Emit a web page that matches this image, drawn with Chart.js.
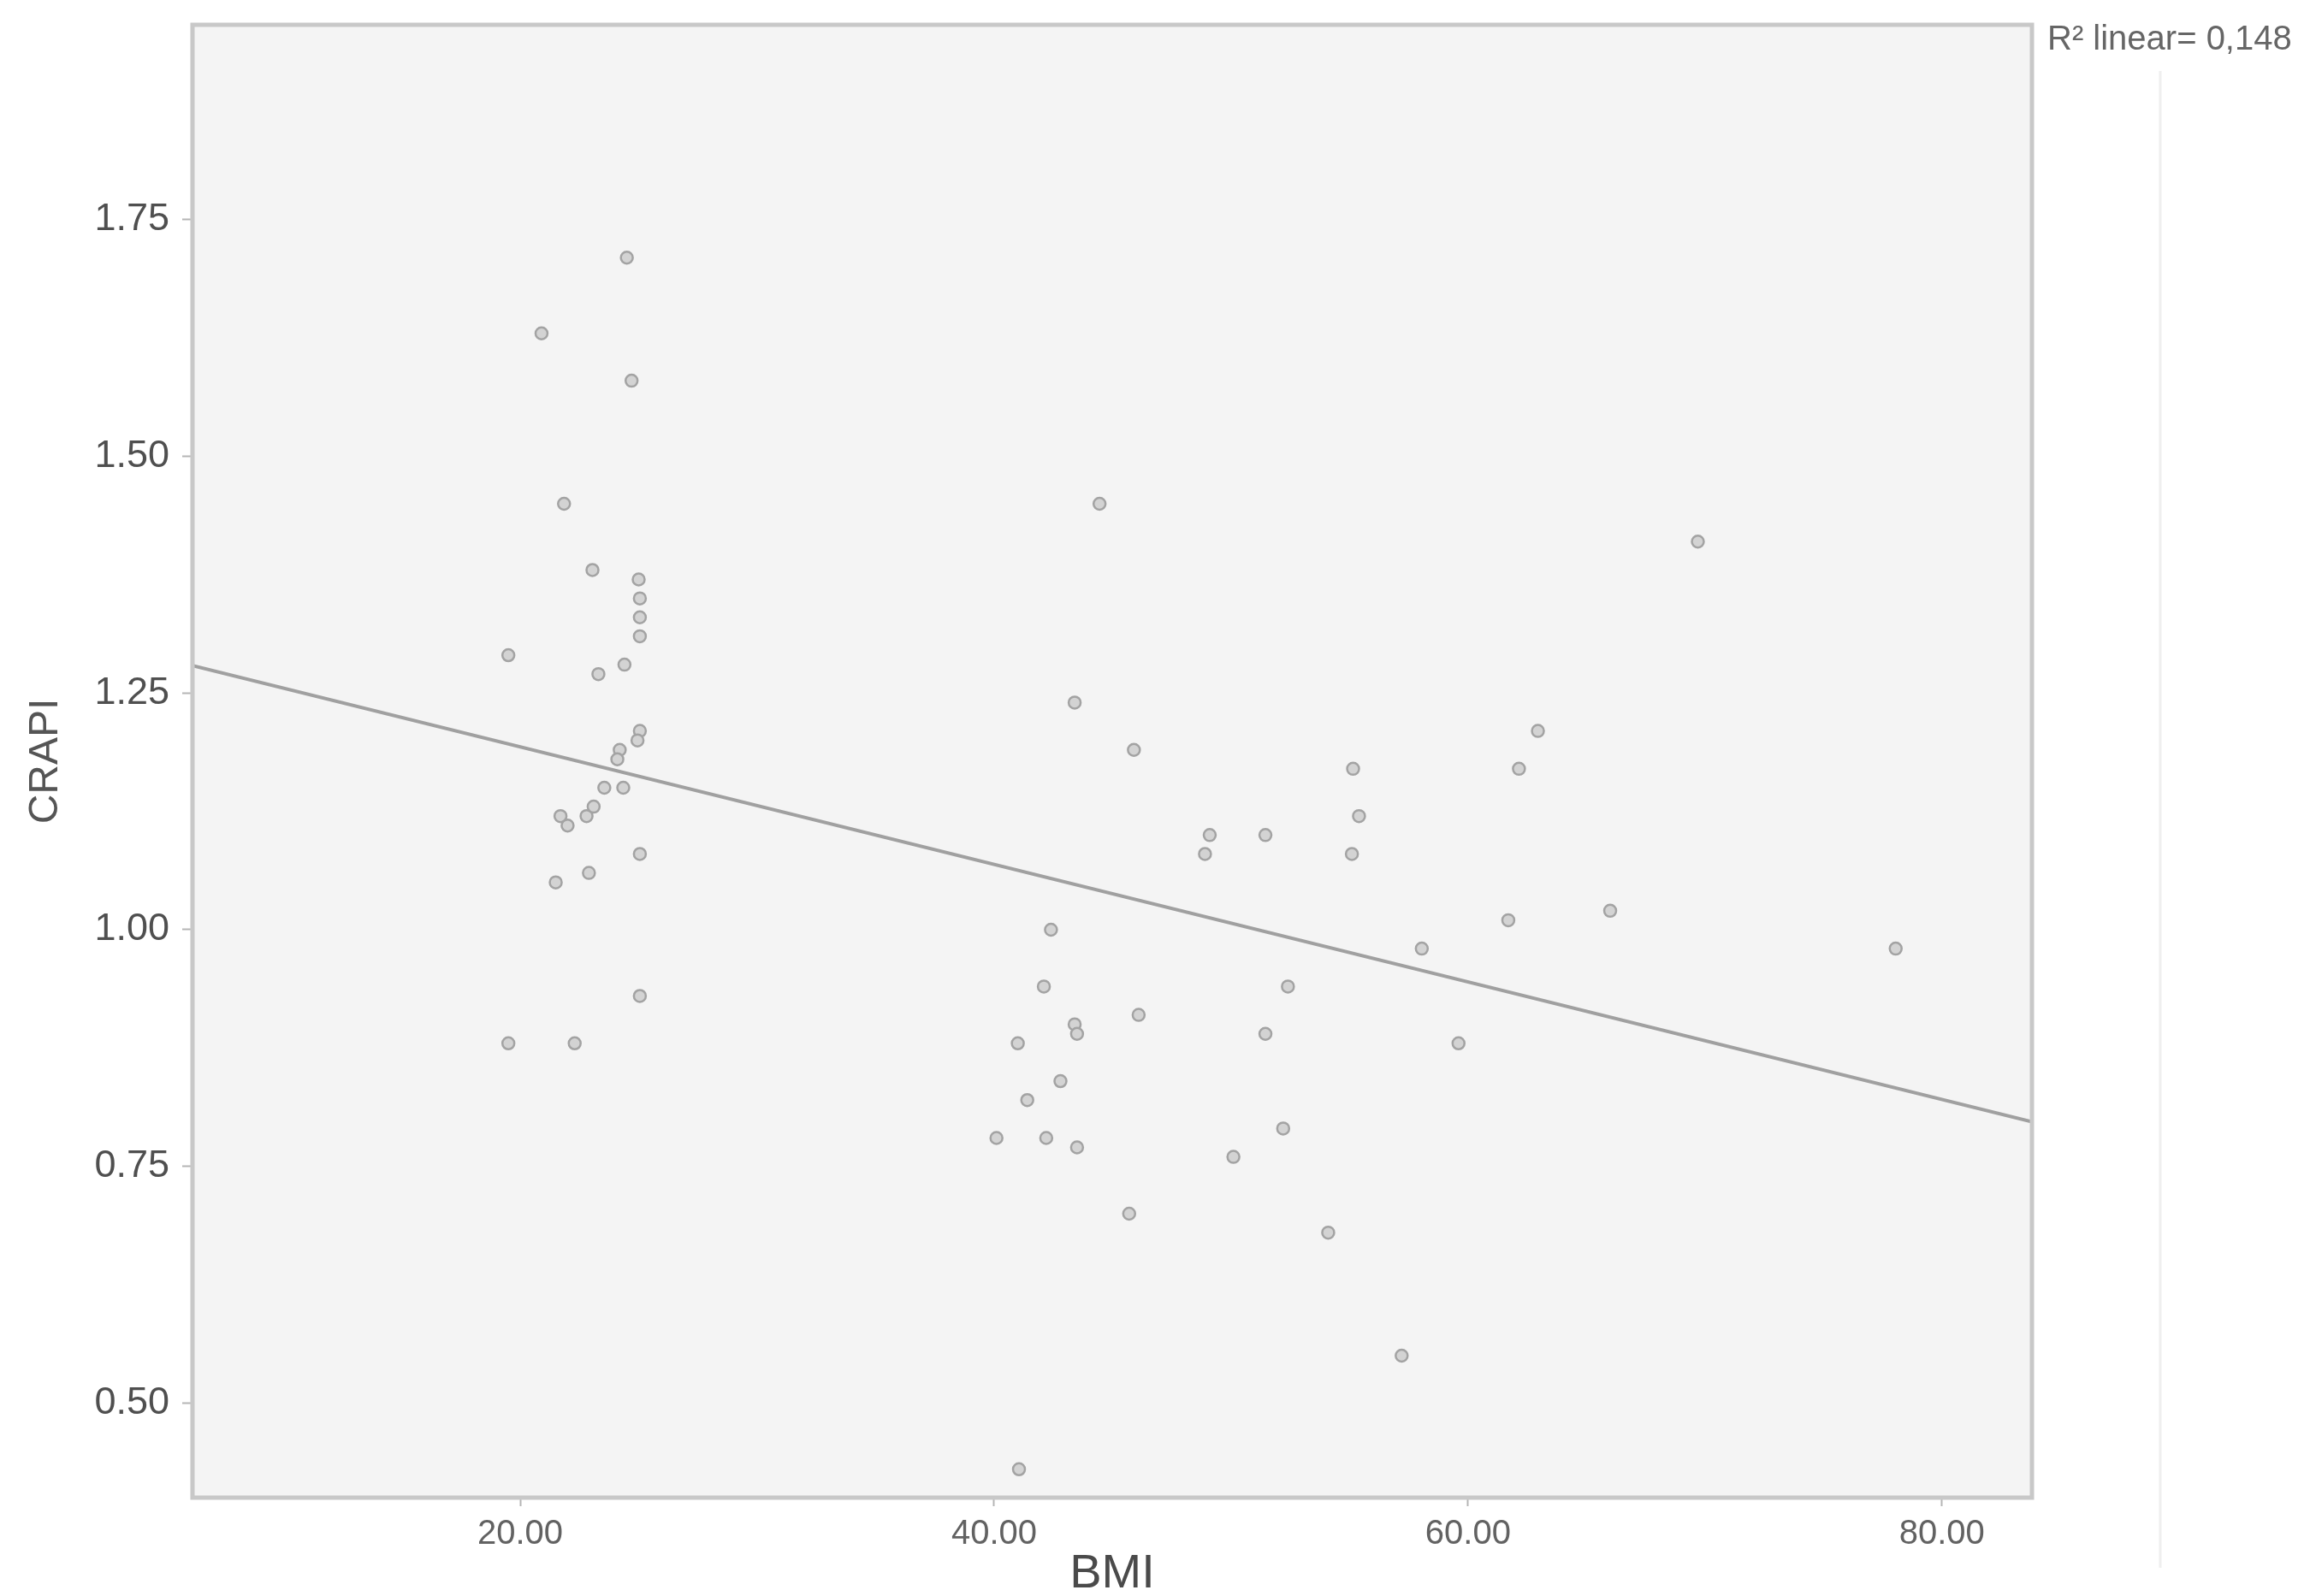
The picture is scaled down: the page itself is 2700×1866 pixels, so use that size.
<!DOCTYPE html>
<html>
<head>
<meta charset="utf-8">
<title>CRAPI vs BMI</title>
<script src="https://cdn.jsdelivr.net/npm/chart.js@4/dist/chart.umd.min.js"></script>
<style>
    html, body { margin: 0; padding: 0; background: #ffffff; }
    #wrap { width: 2700px; height: 1866px; }
</style>
</head>
<body>
<div id="wrap"><canvas id="scatterChart" width="2700" height="1866"></canvas></div>
<script>
// values
const bmiValues = [
    24.5, 20.9, 24.7, 21.85, 23.05, 25.0, 25.05, 25.05, 25.05, 19.5,
    24.4, 23.3, 25.05, 24.95, 24.2, 24.1, 23.55, 24.35, 21.7, 22.0,
    22.8, 23.1, 25.05, 22.9, 21.5, 25.05, 22.3, 19.5,
    43.4, 45.9, 44.45, 55.15, 62.15, 62.95, 69.7, 55.4, 49.1, 51.45,
    48.9, 55.1, 61.7, 66.0, 58.05, 78.05, 42.4, 42.1, 52.4, 46.1,
    43.4, 43.5, 51.45, 41.0, 59.6, 42.8, 41.4, 40.1, 42.2, 43.5,
    52.2, 50.1, 45.7, 54.1, 57.2, 41.05
];
const crapiValues = [
    1.71, 1.63, 1.58, 1.45, 1.38, 1.37, 1.35, 1.33, 1.31, 1.29,
    1.28, 1.27, 1.21, 1.20, 1.19, 1.18, 1.15, 1.15, 1.12, 1.11,
    1.12, 1.13, 1.08, 1.06, 1.05, 0.93, 0.88, 0.88,
    1.24, 1.19, 1.45, 1.17, 1.17, 1.21, 1.41, 1.12, 1.10, 1.10,
    1.08, 1.08, 1.01, 1.02, 0.98, 0.98, 1.00, 0.94, 0.94, 0.91,
    0.90, 0.89, 0.89, 0.88, 0.88, 0.84, 0.82, 0.78, 0.78, 0.77,
    0.79, 0.76, 0.70, 0.68, 0.55, 0.43
];

// fit line end points (linear, R² = 0,148)
const fitLineX = [6.17, 83.8];
const fitLineY = [1.279, 0.797];

const xTicks = [20, 40, 60, 80];
const yTicks = [0.50, 0.75, 1.00, 1.25, 1.50, 1.75];
const rSquaredLabel = 'R² linear= 0,148';

document.addEventListener('DOMContentLoaded', function() {
    initScatterChart();
});

// plot background, frame and the R² note
const framePlugin = {
    id: 'spssFrame',
    beforeDatasetsDraw(chart) {
        const { ctx, chartArea: a } = chart;
        ctx.save();
        ctx.fillStyle = '#f4f4f4';
        ctx.fillRect(a.left, a.top, a.right - a.left, a.bottom - a.top);
        ctx.restore();
    },
    afterDraw(chart) {
        const { ctx, chartArea: a } = chart;
        ctx.save();
        ctx.strokeStyle = '#c8c8c8';
        ctx.lineWidth = 5;
        ctx.strokeRect(a.left, a.top, a.right - a.left, a.bottom - a.top);

        // faint separator on the right side
        ctx.strokeStyle = '#efefef';
        ctx.lineWidth = 3;
        ctx.beginPath();
        ctx.moveTo(2525, 83);
        ctx.lineTo(2525, 1833);
        ctx.stroke();

        ctx.fillStyle = '#666666';
        ctx.font = '40px "Liberation Sans", Arial, sans-serif';
        ctx.textAlign = 'left';
        ctx.textBaseline = 'alphabetic';
        ctx.fillText(rSquaredLabel, a.right + 18, 58);
        ctx.restore();
    }
};

function initScatterChart() {
    const points = bmiValues.map((x, i) => ({ x: x, y: crapiValues[i] }));
    const fitLine = fitLineX.map((x, i) => ({ x: x, y: fitLineY[i] }));
    const ctx = document.getElementById('scatterChart').getContext('2d');

    window.scatterChart = new Chart(ctx, {
        type: 'scatter',
        data: {
            datasets: [
                {
                    label: 'CRAPI',
                    data: points,
                    pointRadius: 7,
                    pointBackgroundColor: '#d3d3d3',
                    pointBorderColor: '#a3a3a3',
                    pointBorderWidth: 2.5,
                    order: 2
                },
                {
                    label: 'Linear fit',
                    type: 'line',
                    data: fitLine,
                    borderColor: '#a0a0a0',
                    borderWidth: 4,
                    pointRadius: 0,
                    fill: false,
                    order: 1
                }
            ]
        },
        options: {
            responsive: false,
            animation: false,
            layout: {
                padding: { left: 0, top: 29, right: 325, bottom: 0 }
            },
            plugins: {
                legend: { display: false },
                tooltip: { enabled: false }
            },
            scales: {
                x: {
                    type: 'linear',
                    min: 6.17,
                    max: 83.8,
                    afterFit: function(scale) {
                        scale.height = 115;
                        scale.paddingLeft = 0;
                        scale.paddingRight = 0;
                    },
                    afterBuildTicks: function(scale) {
                        scale.ticks = xTicks.map(v => ({ value: v }));
                    },
                    border: { display: false },
                    grid: {
                        drawOnChartArea: false,
                        drawTicks: true,
                        tickLength: 10,
                        tickWidth: 2,
                        tickColor: '#b5b5b5'
                    },
                    ticks: {
                        padding: 9,
                        color: '#626262',
                        font: { family: 'Liberation Sans', size: 40 },
                        callback: v => Number(v).toFixed(2)
                    },
                    title: {
                        display: true,
                        text: 'BMI',
                        color: '#4a4a4a',
                        font: { family: 'Liberation Sans', size: 56, lineHeight: 0.8 },
                        padding: { top: 0, bottom: 3 }
                    }
                },
                y: {
                    type: 'linear',
                    min: 0.40,
                    max: 1.956,
                    afterFit: function(scale) {
                        scale.width = 225;
                        scale.paddingTop = 0;
                        scale.paddingBottom = 0;
                    },
                    afterBuildTicks: function(scale) {
                        scale.ticks = yTicks.map(v => ({ value: v }));
                    },
                    border: { display: false },
                    grid: {
                        drawOnChartArea: false,
                        drawTicks: true,
                        tickLength: 12,
                        tickWidth: 2,
                        tickColor: '#b5b5b5'
                    },
                    ticks: {
                        padding: 15,
                        color: '#4f4f4f',
                        font: { family: 'Liberation Sans', size: 45 },
                        callback: v => Number(v).toFixed(2)
                    },
                    title: {
                        display: true,
                        text: 'CRAPI',
                        color: '#555555',
                        font: { family: 'Liberation Sans', size: 48 },
                        padding: { top: 25, bottom: 0 }
                    }
                }
            }
        },
        plugins: [framePlugin]
    });
}
</script>
</body>
</html>
